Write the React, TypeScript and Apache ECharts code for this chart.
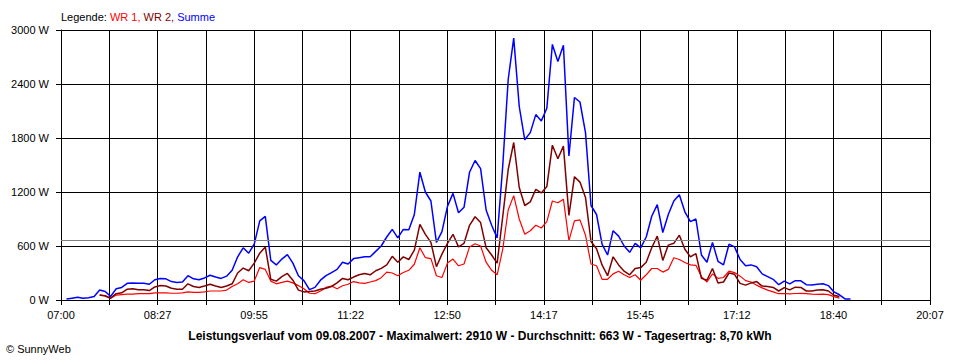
import React, { useEffect, useRef } from "react";
import * as echarts from "echarts";

// ---- Data ----
const times = [
  "07:05", "07:10", "07:15", "07:20", "07:25", "07:30", "07:35", "07:40", "07:45", "07:50", "07:55",
  "08:00", "08:05", "08:10", "08:15", "08:20", "08:25", "08:30", "08:35", "08:40", "08:45", "08:50", "08:55",
  "09:00", "09:05", "09:10", "09:15", "09:20", "09:25", "09:30", "09:35", "09:40", "09:45", "09:50", "09:55",
  "10:00", "10:05", "10:10", "10:15", "10:20", "10:25", "10:30", "10:35", "10:40", "10:45", "10:50", "10:55",
  "11:00", "11:05", "11:10", "11:15", "11:20", "11:25", "11:30", "11:35", "11:40", "11:45", "11:50", "11:55",
  "12:00", "12:05", "12:10", "12:15", "12:20", "12:25", "12:30", "12:35", "12:40", "12:45", "12:50", "12:55",
  "13:00", "13:05", "13:10", "13:15", "13:20", "13:25", "13:30", "13:35", "13:40", "13:45", "13:50", "13:55",
  "14:00", "14:05", "14:10", "14:15", "14:20", "14:25", "14:30", "14:35", "14:40", "14:45", "14:50", "14:55",
  "15:00", "15:05", "15:10", "15:15", "15:20", "15:25", "15:30", "15:35", "15:40", "15:45", "15:50", "15:55",
  "16:00", "16:05", "16:10", "16:15", "16:20", "16:25", "16:30", "16:35", "16:40", "16:45", "16:50", "16:55",
  "17:00", "17:05", "17:10", "17:15", "17:20", "17:25", "17:30", "17:35", "17:40", "17:45", "17:50", "17:55",
  "18:00", "18:05", "18:10", "18:15", "18:20", "18:25", "18:30", "18:35", "18:40", "18:45", "18:50", "18:55",
];

// WR 1 (red)
const wr1: (number | null)[] = [
  null, null, null, null, null, null, 55, 50, 20, 55, 60,
  65, 65, 70, 70, 70, 80, 80, 80, 75, 75, 80, 90,
  85, 85, 90, 100, 100, 100, 110, 150, 180, 225, 195, 210,
  360, 340, 210, 180, 195, 210, 190, 160, 125, 75, 70, 100,
  140, 155, 125, 158, 175, 205, 190, 185, 200, 215, 248, 310,
  300, 270, 305, 330, 397, 580, 470, 460, 270, 250, 410, 455,
  380, 400, 590, 625, 600, 420, 330, 280, 560, 1000, 1160, 900,
  730, 770, 830, 800, 870, 1100, 1080, 1120, 660, 880, 890, 720,
  400, 380, 230, 230, 290, 320, 280, 250, 280, 220, 280, 350,
  350, 310, 340, 470, 450, 416, 390, 385, 260, 200, 290, 240,
  250, 320, 305, 265, 215, 200, 165, 135, 110, 90, 70, 72,
  67, 72, 74, 70, 66, 63, 66, 60, 37, 20, null, null,
];

// WR 2 (dark red)
const wr2: (number | null)[] = [
  null, null, null, null, null, null, 55, 45, 20, 70, 80,
  120, 125, 115, 115, 105, 145, 160, 155, 130, 120, 120, 180,
  150, 140, 155, 175, 155, 140, 155, 180, 300, 355, 325, 410,
  520, 590, 230, 210, 260, 295, 220, 110, 90, 95, 100, 120,
  130, 150, 190, 240, 225, 255, 280, 295, 280, 325, 352, 390,
  485, 420, 479, 450, 553, 840, 730, 640, 370, 510, 630, 730,
  590, 630, 830, 925, 860, 580, 500, 410, 920, 1450, 1750, 1250,
  1050, 1090, 1230, 1190, 1260, 1720, 1570, 1710, 940, 1370, 1310, 1140,
  650, 570, 390, 270, 480, 390, 320, 280, 350, 360, 420, 580,
  710, 440, 610, 630, 720, 564, 480, 515, 240, 220, 350, 190,
  200, 300, 285, 185, 165, 190, 205, 155, 150, 140, 100, 138,
  113, 143, 139, 100, 101, 112, 114, 100, 53, 38, null, null,
];

// Summe (blue)
const summe: (number | null)[] = [
  10, 20, 30, 20, 25, 40, 110, 95, 40, 125, 140,
  185, 190, 185, 185, 175, 225, 240, 235, 205, 195, 200, 270,
  235, 225, 245, 275, 255, 240, 265, 330, 480, 580, 520, 620,
  880, 930, 440, 390, 455, 505, 410, 270, 215, 115, 140, 220,
  270, 305, 340, 420, 400, 460, 470, 480, 480, 540, 600, 700,
  785, 690, 784, 780, 950, 1420, 1200, 1100, 640, 760, 1040, 1185,
  970, 1030, 1420, 1550, 1460, 1000, 830, 690, 1480, 2450, 2910, 2150,
  1780, 1860, 2060, 1990, 2130, 2840, 2650, 2830, 1600, 2250, 2200, 1860,
  1050, 950, 620, 500, 770, 710, 600, 530, 630, 580, 700, 930,
  1060, 750, 950, 1100, 1170, 980, 870, 900, 500, 420, 640, 430,
  390, 620, 590, 450, 380, 390, 370, 290, 260, 230, 170, 210,
  180, 215, 213, 170, 167, 175, 180, 160, 90, 58, 12, 10,
];

const xTickLabels = ["07:00", "08:27", "09:55", "11:22", "12:50", "14:17", "15:45", "17:12", "18:40", "20:07"];
const axisStartTime = "07:00";
const axisEndTime = "20:07";
const gridDivisions = 18;
const yMax = 3000;
const yInterval = 600;
const durchschnitt = 663;

const legendLabel = "Legende: ";
const seriesNames = ["WR 1", "WR 2", "Summe"];
const seriesColors = ["#ff0000", "#800000", "#0000ff"];
const titleText =
  "Leistungsverlauf vom 09.08.2007 - Maximalwert: 2910 W - Durchschnitt: 663 W - Tagesertrag: 8,70 kWh";
const copyrightText = "\u00A9 SunnyWeb";

const FONT = '"Liberation Sans", Arial, sans-serif';

const toMin = (t: string) => {
  const [h, m] = t.split(":").map(Number);
  return h * 60 + m;
};

export default function App() {
  const ref = useRef<HTMLDivElement>(null);

  useEffect(() => {
    if (!ref.current) return;
    const chart = echarts.init(ref.current, null, { renderer: "svg" });
    const start = toMin(axisStartTime);
    const span = toMin(axisEndTime) - start;
    const interval = span / gridDivisions;

    const pairs = (vals: (number | null)[]) =>
      times.map((t, i) => [toMin(t) - start, vals[i] == null ? "-" : vals[i]]);

    const lineSeries = (name: string, color: string, vals: (number | null)[], width: number, extra: any = {}) => ({
      name,
      type: "line",
      data: pairs(vals),
      showSymbol: false,
      symbol: "none",
      connectNulls: false,
      silent: true,
      lineStyle: { color, width },
      itemStyle: { color },
      ...extra,
    });

    chart.setOption({
      animation: false,
      backgroundColor: "#ffffff",
      grid: { left: 61, top: 30, width: 869, height: 270, containLabel: false, outerBoundsMode: "none" },
      xAxis: {
        type: "value",
        min: 0,
        max: span,
        interval,
        axisLine: { show: true, onZero: false, lineStyle: { color: "#000", width: 1 } },
        axisTick: { show: true, length: 5, lineStyle: { color: "#000", width: 1 } },
        axisLabel: {
          show: true,
          color: "#000",
          fontSize: 11,
          fontFamily: FONT,
          margin: 9,
          showMinLabel: true,
          showMaxLabel: true,
          hideOverlap: false,
          formatter: (v: number) => {
            const idx = Math.round(v / interval);
            return idx % 2 === 0 ? xTickLabels[idx / 2] ?? "" : "";
          },
        },
        splitLine: { show: true, lineStyle: { color: "#000", width: 1 } },
      },
      yAxis: {
        type: "value",
        min: 0,
        max: yMax,
        interval: yInterval,
        axisLine: { show: true, lineStyle: { color: "#000", width: 1 } },
        axisTick: { show: true, length: 5, lineStyle: { color: "#000", width: 1 } },
        axisLabel: {
          color: "#000",
          fontSize: 11,
          fontFamily: FONT,
          margin: 12,
          formatter: (v: number) => `${v} W`,
        },
        splitLine: { show: true, lineStyle: { color: "#000", width: 1 } },
      },
      series: [
        lineSeries(seriesNames[0], seriesColors[0], wr1, 1.2, {
          markLine: {
            silent: true,
            symbol: "none",
            label: { show: false },
            lineStyle: { color: "#808080", type: "solid", width: 1 },
            data: [{ yAxis: durchschnitt }],
          },
        }),
        lineSeries(seriesNames[1], seriesColors[1], wr2, 1.5),
        lineSeries(seriesNames[2], seriesColors[2], summe, 1.5),
      ],
      graphic: [
        {
          type: "text",
          x: 61,
          y: 16.5,
          silent: true,
          style: {
            text: `{k|${legendLabel}}{a|${seriesNames[0]}, }{b|${seriesNames[1]}, }{c|${seriesNames[2]}}`,
            verticalAlign: "middle",
            align: "left",
            rich: {
              k: { fill: "#000", fontSize: 11, fontFamily: FONT },
              a: { fill: seriesColors[0], fontSize: 11, fontFamily: FONT },
              b: { fill: seriesColors[1], fontSize: 11, fontFamily: FONT },
              c: { fill: seriesColors[2], fontSize: 11, fontFamily: FONT },
            },
          },
        },
        {
          type: "text",
          x: 480,
          y: 336,
          silent: true,
          style: {
            text: titleText,
            fill: "#000",
            font: `bold 12px ${FONT}`,
            align: "center",
            verticalAlign: "middle",
          },
        },
        {
          type: "text",
          x: 6,
          y: 349,
          silent: true,
          style: {
            text: copyrightText,
            fill: "#000",
            font: `11px ${FONT}`,
            align: "left",
            verticalAlign: "middle",
          },
        },
      ],
    });

    return () => chart.dispose();
  }, []);

  return (
    <div
      ref={ref}
      style={{ position: "absolute", left: 0, top: 0, width: 960, height: 360, background: "#fff" }}
    />
  );
}
